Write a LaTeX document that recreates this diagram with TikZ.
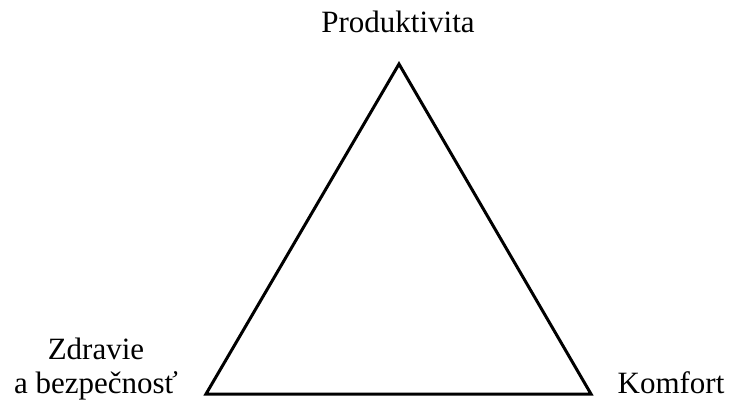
\documentclass[tikz,border=0pt]{standalone}
\usepackage{fontspec}
\setmainfont{Liberation Serif}
\begin{document}
\begin{tikzpicture}[x=1pt,y=-1pt,
  lbl/.style={font=\fontsize{31}{34}\selectfont, inner sep=0pt, anchor=base, align=center},
  tri/.style={draw=black, line width=3pt, line join=miter}]
\useasboundingbox (0,0) rectangle (729,400);
\coordinate (top) at (399,64);
\coordinate (bl) at (206,394);
\coordinate (br) at (591,394);
\draw[tri] (top) -- (br) -- (bl) -- cycle;
\node[lbl] (prod) at (398,32) {Produktivita};
\node[lbl] (zdr) at (96,393) {Zdravie\\a bezpečnosť};
\node[lbl] (kom) at (671,393) {Komfort};
\end{tikzpicture}
\end{document}
